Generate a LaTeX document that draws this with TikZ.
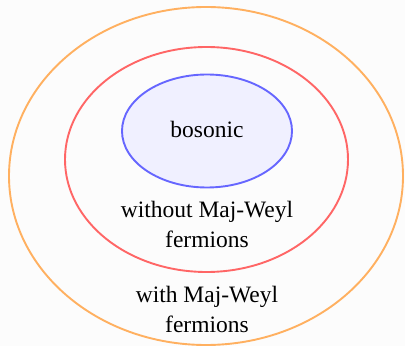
\documentclass[tikz,border=0pt]{standalone}
\usepackage{fontspec}
\setmainfont{Liberation Serif}
\definecolor{bgc}{RGB}{252,252,252}
\definecolor{orangec}{RGB}{255,176,96}
\definecolor{redc}{RGB}{255,102,102}
\definecolor{bluec}{RGB}{102,102,255}
\definecolor{bluefill}{RGB}{240,240,255}
\begin{document}
\begin{tikzpicture}[x=1pt,y=1pt,
  ring/.style={line width=1.9pt},
  lbl/.style={font=\fontsize{23.5}{28}\selectfont, anchor=base, inner sep=0pt}]
\fill[bgc] (0,0) rectangle (405,346);
\useasboundingbox (0,0) rectangle (405,346);
\draw[ring, orangec] (206,170) ellipse [x radius=197, y radius=169];
\draw[ring, redc] (206.5,186.5) ellipse [x radius=141.5, y radius=112.5];
\draw[ring, bluec, fill=bluefill] (207,215) ellipse [x radius=85, y radius=56.5];
\node[lbl] (bos) at (207,208.3) {bosonic};
\node[lbl] (wo1) at (207,128.3) {without Maj-Weyl};
\node[lbl] (wo2) at (207,98) {fermions};
\node[lbl] (w1) at (207,43) {with Maj-Weyl};
\node[lbl] (w2) at (207,13.3) {fermions};
\end{tikzpicture}
\end{document}
